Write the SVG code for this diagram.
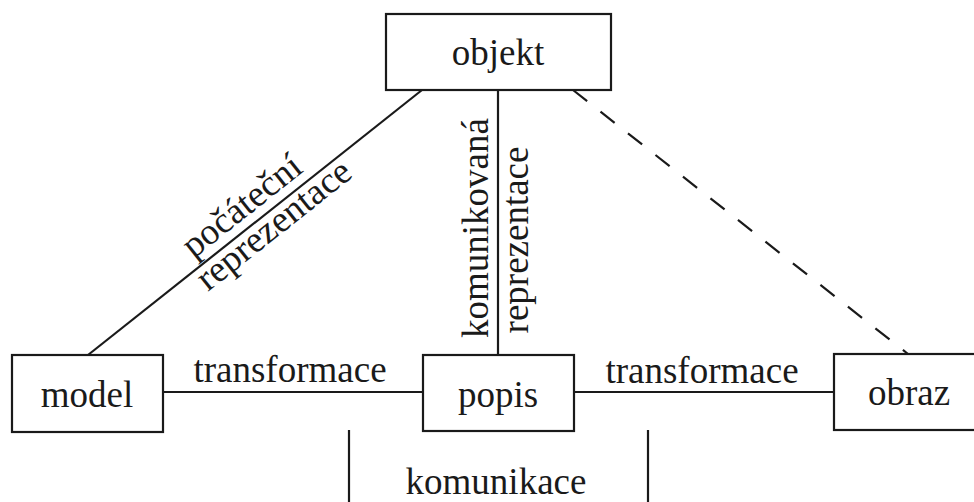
<svg xmlns="http://www.w3.org/2000/svg" width="974" height="502" viewBox="0 0 974 502">
<style>
.box{fill:#fff;stroke:#1a1a1a;stroke-width:2.2}
.ln{stroke:#1a1a1a;stroke-width:2.2;fill:none}
.dash{stroke-dasharray:18 17}
text{font-family:"Liberation Serif","Times New Roman",serif;font-size:37px;fill:#1a1a1a}
.c{text-anchor:middle}
</style>
<rect width="974" height="502" fill="#fff"/>
<g id="connectors">
<line class="ln" x1="422" y1="90" x2="88" y2="355"/>
<line class="ln" x1="498" y1="90" x2="498" y2="355"/>
<line class="ln dash" x1="573" y1="90" x2="908" y2="354"/>
<line class="ln" x1="163" y1="392" x2="423" y2="392"/>
<line class="ln" x1="574" y1="392" x2="834" y2="392"/>
<line class="ln" x1="349" y1="430" x2="349" y2="502"/>
<line class="ln" x1="648" y1="430" x2="648" y2="502"/>
<text class="c" transform="translate(249,215) rotate(-38.4)" font-size="38">počáteční</text>
<text class="c" transform="translate(281,234) rotate(-38.4)" font-size="38">reprezentace</text>
<text class="c" transform="translate(488,228) rotate(-90)" font-size="38.5">komunikovaná</text>
<text class="c" transform="translate(528,240) rotate(-90)">reprezentace</text>
<text class="c" x="290" y="382">transformace</text>
<text class="c" x="702" y="383">transformace</text>
<text class="c" x="496" y="494">komunikace</text>
</g>
<g id="objekt">
<rect class="box" x="386" y="14" width="225" height="76"/>
<text class="c" x="498" y="65">objekt</text>
</g>
<g id="model">
<rect class="box" x="12" y="355" width="151" height="77"/>
<text class="c" x="87" y="407">model</text>
</g>
<g id="popis">
<rect class="box" x="423" y="355" width="151" height="76"/>
<text class="c" x="498" y="407">popis</text>
</g>
<g id="obraz">
<rect class="box" x="834" y="354" width="145" height="76"/>
<text class="c" x="909" y="405">obraz</text>
</g>
</svg>
